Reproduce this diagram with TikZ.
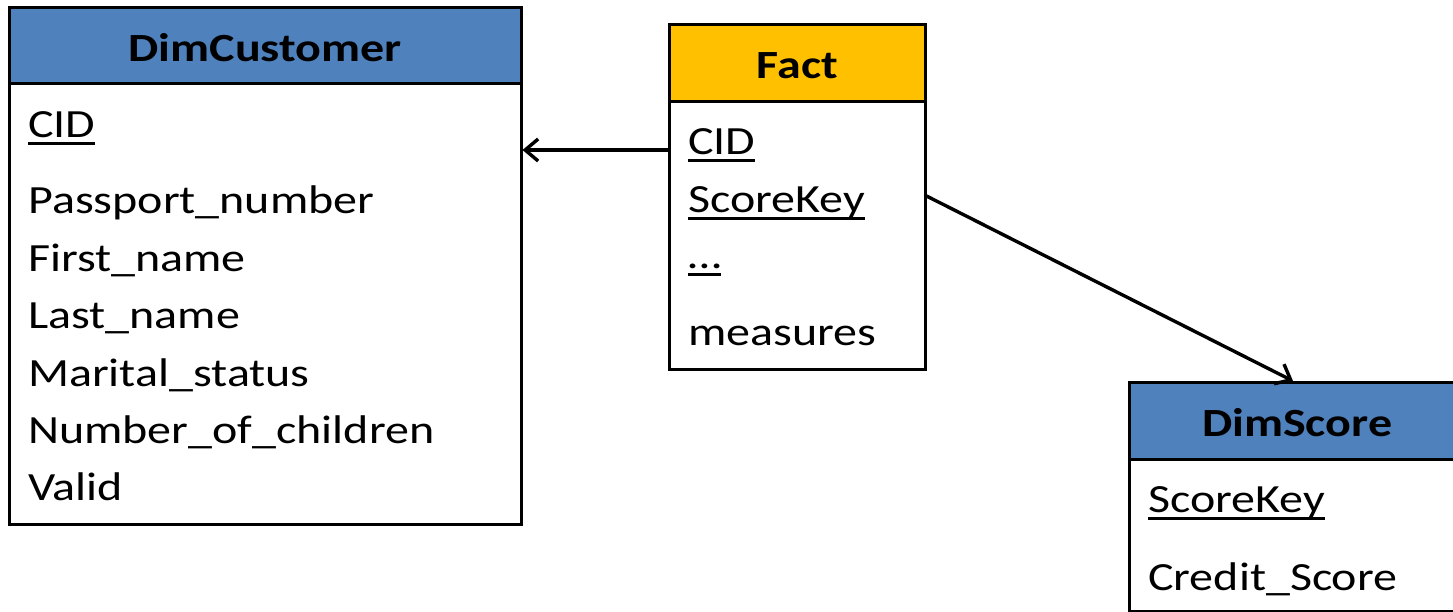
\documentclass[tikz,border=0pt]{standalone}
\usepackage{fontspec}
\setmainfont{Carlito}[FakeStretch=1.2]
\usetikzlibrary{arrows.meta}
\definecolor{dimblue}{HTML}{4F81BD}
\definecolor{factgold}{HTML}{FFC000}
\newcommand\keyul[1]{\setbox0\hbox{#1}\rlap{\rule[-7.5pt]{\wd0}{2.6pt}}\box0}
\begin{document}
\begin{tikzpicture}[x=1pt,y=-1pt,
  head/.style={draw=black, line width=2.5pt, anchor=north west, inner sep=0pt,
    text height=32pt, text depth=0pt, font=\fontsize{40}{48}\selectfont\bfseries},
  body/.style={draw=black, line width=2.5pt, anchor=north west, inner sep=0pt, fill=white},
  row/.style={anchor=base west, inner sep=0pt, font=\fontsize{40}{48}\selectfont},
  arr/.style={line width=3.4pt, -{Straight Barb[length=13pt,width=22pt,line width=3.4pt]}}]
\useasboundingbox (0,0) rectangle (1453,611);
\clip (0,0) rectangle (1453,611);

% DimCustomer
\node[body, minimum width=512pt, minimum height=441pt] (custbody) at (8,82) {};
\node[head, fill=dimblue, minimum width=512pt, minimum height=76pt] (custhead) at (8,6) {DimCustomer};
\node[row] (c1) at (28,137) {\keyul{CID}};
\node[row] (c2) at (28,213) {Passport\_number};
\node[row] (c3) at (28,271) {First\_name};
\node[row] (c4) at (28,328) {Last\_name};
\node[row] (c5) at (28,386) {Marital\_status};
\node[row] (c6) at (28,443) {Number\_of\_children};
\node[row] (c7) at (28,500) {Valid};

% Fact
\node[body, minimum width=256pt, minimum height=268pt] (factbody) at (668,100) {};
\node[head, fill=factgold, minimum width=256pt, minimum height=77pt] (facthead) at (668,23) {Fact};
\node[row] (f1) at (688,154) {\keyul{CID}};
\node[row] (f2) at (688,212) {\keyul{ScoreKey}};
\node[row] (f3) at (688,268) {\keyul{…}};
\node[row] (f4) at (688,345) {measures};

% DimScore
\node[body, minimum width=336pt, minimum height=152pt] (scorebody) at (1128,458) {};
\node[head, fill=dimblue, minimum width=336pt, minimum height=77pt] (scorehead) at (1128,381) {DimScore};
\node[row] (s1) at (1148,512) {\keyul{ScoreKey}};
\node[row] (s2) at (1148,590) {Credit\_Score};

% connectors
\draw[arr] ([yshift=-50pt]factbody.north west) -- ([yshift=-68pt]custbody.north east);
\draw[arr] ([yshift=-96pt]factbody.north east) -- ([xshift=165pt]scorehead.north west);
\end{tikzpicture}
\end{document}
